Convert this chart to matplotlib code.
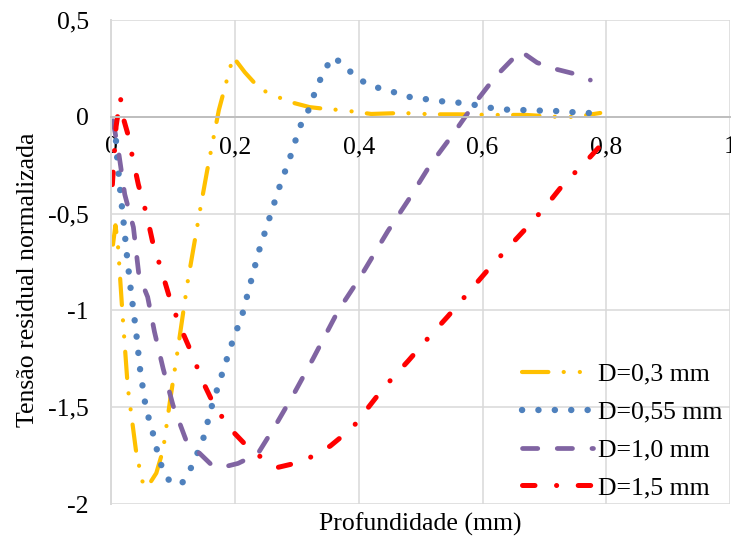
import matplotlib
matplotlib.use("Agg")
import matplotlib.pyplot as plt

plt.rcParams['font.family'] = ['Liberation Serif', 'DejaVu Serif']
plt.rcParams['lines.scale_dashes'] = False

# perfis de tensao residual (profundidade em mm, tensao normalizada)
x_03 = [0.003, 0.007, 0.011, 0.018, 0.027, 0.040, 0.050, 0.058, 0.073, 0.084, 0.095,
        0.105, 0.124, 0.145, 0.155, 0.174, 0.189, 0.197, 0.216, 0.233, 0.254, 0.297,
        0.321, 0.349, 0.373, 0.42, 0.47, 0.52, 0.56, 0.62, 0.67, 0.72, 0.75, 0.79]
y_03 = [-0.66, -0.56, -0.66, -1.00, -1.40, -1.72, -1.88, -1.915, -1.84, -1.72, -1.47,
        -1.26, -0.845, -0.457, -0.28, 0.035, 0.215, 0.31, 0.23, 0.17, 0.12, 0.07,
        0.05, 0.04, 0.035, 0.015, 0.02, 0.013, 0.013, 0.01, 0.01, 0.0, 0.0, 0.02]

x_055 = [0.006, 0.010, 0.015, 0.021, 0.026, 0.032, 0.040, 0.047, 0.055, 0.061, 0.068,
         0.074, 0.082, 0.094, 0.105, 0.115, 0.128, 0.139, 0.149, 0.163, 0.178, 0.194,
         0.212, 0.225, 0.239, 0.255, 0.271, 0.289, 0.305, 0.317, 0.326, 0.336, 0.346,
         0.359, 0.378, 0.397, 0.420, 0.443, 0.465, 0.485, 0.512, 0.535, 0.554, 0.574,
         0.598, 0.625, 0.653, 0.679, 0.704, 0.730, 0.756, 0.782]
y_055 = [-0.04, -0.22, -0.39, -0.57, -0.73, -0.90, -1.10, -1.31, -1.48, -1.56, -1.64,
         -1.72, -1.81, -1.88, -1.90, -1.89, -1.82, -1.74, -1.66, -1.49, -1.34, -1.18,
         -1.02, -0.86, -0.69, -0.53, -0.37, -0.21, -0.05, 0.02, 0.10, 0.18, 0.25,
         0.31, 0.26, 0.20, 0.16, 0.14, 0.12, 0.10, 0.09, 0.08, 0.075, 0.07,
         0.055, 0.04, 0.035, 0.035, 0.03, 0.03, 0.02, 0.02]

x_10 = [0.003, 0.012, 0.022, 0.036, 0.045, 0.059, 0.070, 0.084, 0.100, 0.121, 0.163,
        0.180, 0.205, 0.237, 0.268, 0.297, 0.326, 0.367, 0.402, 0.447, 0.480, 0.515,
        0.551, 0.585, 0.620, 0.661, 0.688, 0.714, 0.745, 0.774]
y_10 = [-0.02, -0.18, -0.40, -0.57, -0.82, -0.93, -1.11, -1.30, -1.49, -1.67, -1.80,
        -1.81, -1.79, -1.74, -1.58, -1.42, -1.25, -1.00, -0.83, -0.59, -0.43, -0.25,
        -0.095, 0.06, 0.205, 0.34, 0.28, 0.25, 0.225, 0.19]

x_15 = [0.002, 0.008, 0.015, 0.020, 0.028, 0.034, 0.044, 0.057, 0.067, 0.081, 0.095,
        0.111, 0.130, 0.147, 0.168, 0.195, 0.228, 0.270, 0.310, 0.354, 0.390, 0.440,
        0.480, 0.510, 0.544, 0.575, 0.606, 0.640, 0.669, 0.700, 0.730, 0.770, 0.797]
y_15 = [-0.35, -0.05, 0.10, -0.01, -0.10, -0.20, -0.35, -0.50, -0.645, -0.79, -0.94,
        -1.08, -1.22, -1.36, -1.50, -1.62, -1.73, -1.81, -1.78, -1.70, -1.605, -1.40,
        -1.26, -1.15, -1.03, -0.915, -0.80, -0.68, -0.58, -0.47, -0.35, -0.22, -0.125]

labels = ['D=0,3 mm', 'D=0,55 mm', 'D=1,0 mm', 'D=1,5 mm']
xticks = [0, 0.2, 0.4, 0.6, 0.8, 1]
xtick_labels = ['0', '0,2', '0,4', '0,6', '0,8', '1']
yticks = [0.5, 0, -0.5, -1, -1.5, -2]
ytick_labels = ['0,5', '0', '-0,5', '-1', '-1,5', '-2']

fs = 18.5

fig = plt.figure(figsize=(7.31, 5.42), dpi=100)
ax = fig.add_axes([0.152, 0.070, 0.847, 0.893])

ax.plot(x_03, y_03, color='#FFC000', lw=3.0, dash_capstyle='round',
        linestyle=(0, (19, 11, 0.1, 11.5, 0.1, 11)), label=labels[0])
ax.plot(x_055, y_055, color='#4F81BD', lw=4.6, dash_capstyle='round',
        linestyle=(0, (0.1, 11.7)), label=labels[1])
ax.plot(x_10, y_10, color='#8064A2', lw=3.4, dash_capstyle='round',
        linestyle=(0, (11, 14)), label=labels[2])
ax.plot(x_15, y_15, color='#FF0000', lw=3.6, dash_capstyle='round',
        linestyle=(0, (9, 15.5, 0.1, 15.5)), label=labels[3])

ax.set_xlim(0, 1)
ax.set_ylim(-2, 0.5)
ax.set_xticks(xticks)
ax.set_xticklabels(xtick_labels)
ax.set_yticks(yticks)
ax.set_yticklabels(ytick_labels)
ax.grid(True, color='#d9d9d9', lw=1.1)
ax.set_axisbelow(True)

# eixo x cruza em y = 0
ax.spines['bottom'].set_position(('data', 0))
ax.spines['bottom'].set_color('#bfbfbf')
ax.spines['bottom'].set_linewidth(1.4)
ax.spines['left'].set_color('#d9d9d9')
ax.spines['left'].set_linewidth(1.4)
ax.spines['top'].set_visible(False)
ax.spines['right'].set_visible(False)
ax.tick_params(axis='both', length=0, labelsize=fs)
ax.tick_params(axis='x', pad=14)
ax.tick_params(axis='y', pad=16)

fig.text(0.575, 0.032, 'Profundidade (mm)', ha='center', va='center', fontsize=fs)
fig.text(0.038, 0.483, 'Tensão residual normalizada', ha='center', va='center',
         rotation=90, fontsize=fs)

ax.legend(loc='lower right', bbox_to_anchor=(1.008, -0.017), frameon=False,
          fontsize=fs, handlelength=2.75, handletextpad=0.2, labelspacing=0.58,
          borderaxespad=0.1)

fig.savefig('out.png', dpi=100)
